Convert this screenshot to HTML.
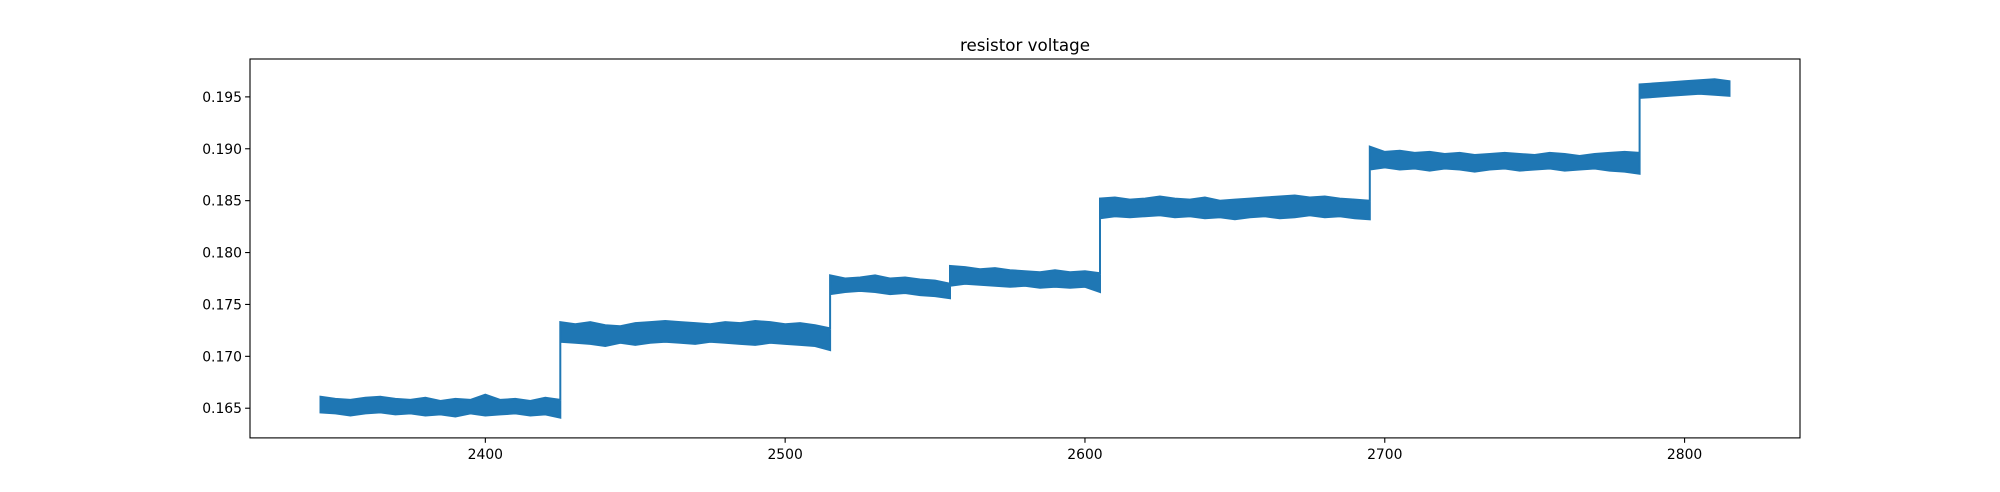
<!DOCTYPE html>
<html><head><meta charset="utf-8"><style>
body{margin:0;background:#fff;font-family:"Liberation Sans","DejaVu Sans",sans-serif}
svg{display:block}
</style></head><body>
<svg id="chart" width="2000" height="492" xmlns="http://www.w3.org/2000/svg">
<rect width="2000" height="492" fill="#fff"/>
<text x="1025" y="51" text-anchor="middle" font-size="16.7" font-family="DejaVu Sans, Liberation Sans, sans-serif">resistor voltage</text>
<g id="plot"></g>
<rect x="250" y="59" width="1550" height="378.9" fill="none" stroke="#000" stroke-width="1.1"/>
</svg>
<script>
const xTicks=[2400,2500,2600,2700,2800];
const yTicks=[0.165,0.170,0.175,0.180,0.185,0.190,0.195];
const segStarts=[2345,2425,2515,2555,2605,2695,2785];
const segUpper=[
[.1661,.1659,.1658,.1660,.1661,.1659,.1658,.1660,.1657,.1659,.1658,.1663,.1658,.1659,.1657,.1660,.1658],
[.1733,.1731,.1733,.1730,.1729,.1732,.1733,.1734,.1733,.1732,.1731,.1733,.1732,.1734,.1733,.1731,.1732,.1730,.1727],
[.1778,.1775,.1776,.1778,.1775,.1776,.1774,.1773,.1770],
[.1787,.1786,.1784,.1785,.1783,.1782,.1781,.1783,.1781,.1782,.1780],
[.1852,.1853,.1851,.1852,.1854,.1852,.1851,.1853,.1850,.1851,.1852,.1853,.1854,.1855,.1853,.1854,.1852,.1851,.1850],
[.1902,.1897,.1898,.1896,.1897,.1895,.1896,.1894,.1895,.1896,.1895,.1894,.1896,.1895,.1893,.1895,.1896,.1897,.1896],
[.1962,.1963,.1964,.1965,.1966,.1967,.1965]];
const segLower=[
[.1646,.1645,.1643,.1645,.1646,.1644,.1645,.1643,.1644,.1642,.1645,.1643,.1644,.1645,.1643,.1644,.1641],
[.1714,.1713,.1712,.1710,.1713,.1711,.1713,.1714,.1713,.1712,.1714,.1713,.1712,.1711,.1713,.1712,.1711,.1710,.1706],
[.1760,.1762,.1763,.1762,.1760,.1761,.1759,.1758,.1756],
[.1768,.1770,.1769,.1768,.1767,.1768,.1766,.1767,.1766,.1767,.1762],
[.1833,.1835,.1834,.1835,.1836,.1834,.1835,.1833,.1834,.1832,.1834,.1835,.1833,.1834,.1836,.1834,.1835,.1833,.1832],
[.1880,.1882,.1880,.1881,.1879,.1881,.1880,.1878,.1880,.1881,.1879,.1880,.1881,.1879,.1880,.1881,.1879,.1878,.1876],
[.1949,.1950,.1951,.1952,.1953,.1952,.1951]];
const sampleStep=5;

const X0=250,X1=1800,Y0=437.9,Y1=59;
const xmin=2321.5,xmax=2838.5,ymin=0.16214,ymax=0.19865;
const xs=v=>X0+(v-xmin)/(xmax-xmin)*(X1-X0);
const ys=v=>Y0-(v-ymin)/(ymax-ymin)*(Y0-Y1);
const NS="http://www.w3.org/2000/svg";
const g=document.getElementById('plot');
function mk(t,a){const e=document.createElementNS(NS,t);for(const k in a)e.setAttribute(k,a[k]);g.appendChild(e);return e;}

let up=[],lo=[];
segStarts.forEach((s,i)=>{
  segUpper[i].forEach((v,j)=>up.push([xs(s+j*sampleStep),ys(v)]));
  segLower[i].forEach((v,j)=>lo.push([xs(s+j*sampleStep),ys(v)]));
});
const pts=up.concat(lo.reverse()).map(p=>p[0].toFixed(1)+','+p[1].toFixed(1)).join(' ');
const band=mk('polygon',{points:pts,fill:'#1f77b4',stroke:'#1f77b4','stroke-width':2,'stroke-linejoin':'miter'});



xTicks.forEach(t=>{
  const x=xs(t);
  const l=mk('line',{x1:x,x2:x,y1:Y0,y2:Y0+4.9,stroke:'#000','stroke-width':1.1});
  
  
  const tx=mk('text',{x:x,y:Y0+21,'text-anchor':'middle','font-size':13.9,'font-family':'DejaVu Sans, Liberation Sans, sans-serif'});
  tx.textContent=t;
  
  
});
yTicks.forEach(t=>{
  const y=ys(t);
  const l=mk('line',{x1:X0-4.9,x2:X0,y1:y,y2:y,stroke:'#000','stroke-width':1.1});
  
  
  const tx=mk('text',{x:X0-8,y:y+5,'text-anchor':'end','font-size':13.9,'font-family':'DejaVu Sans, Liberation Sans, sans-serif'});
  tx.textContent=t.toFixed(3);
  
  
});
</script>
</body></html>
